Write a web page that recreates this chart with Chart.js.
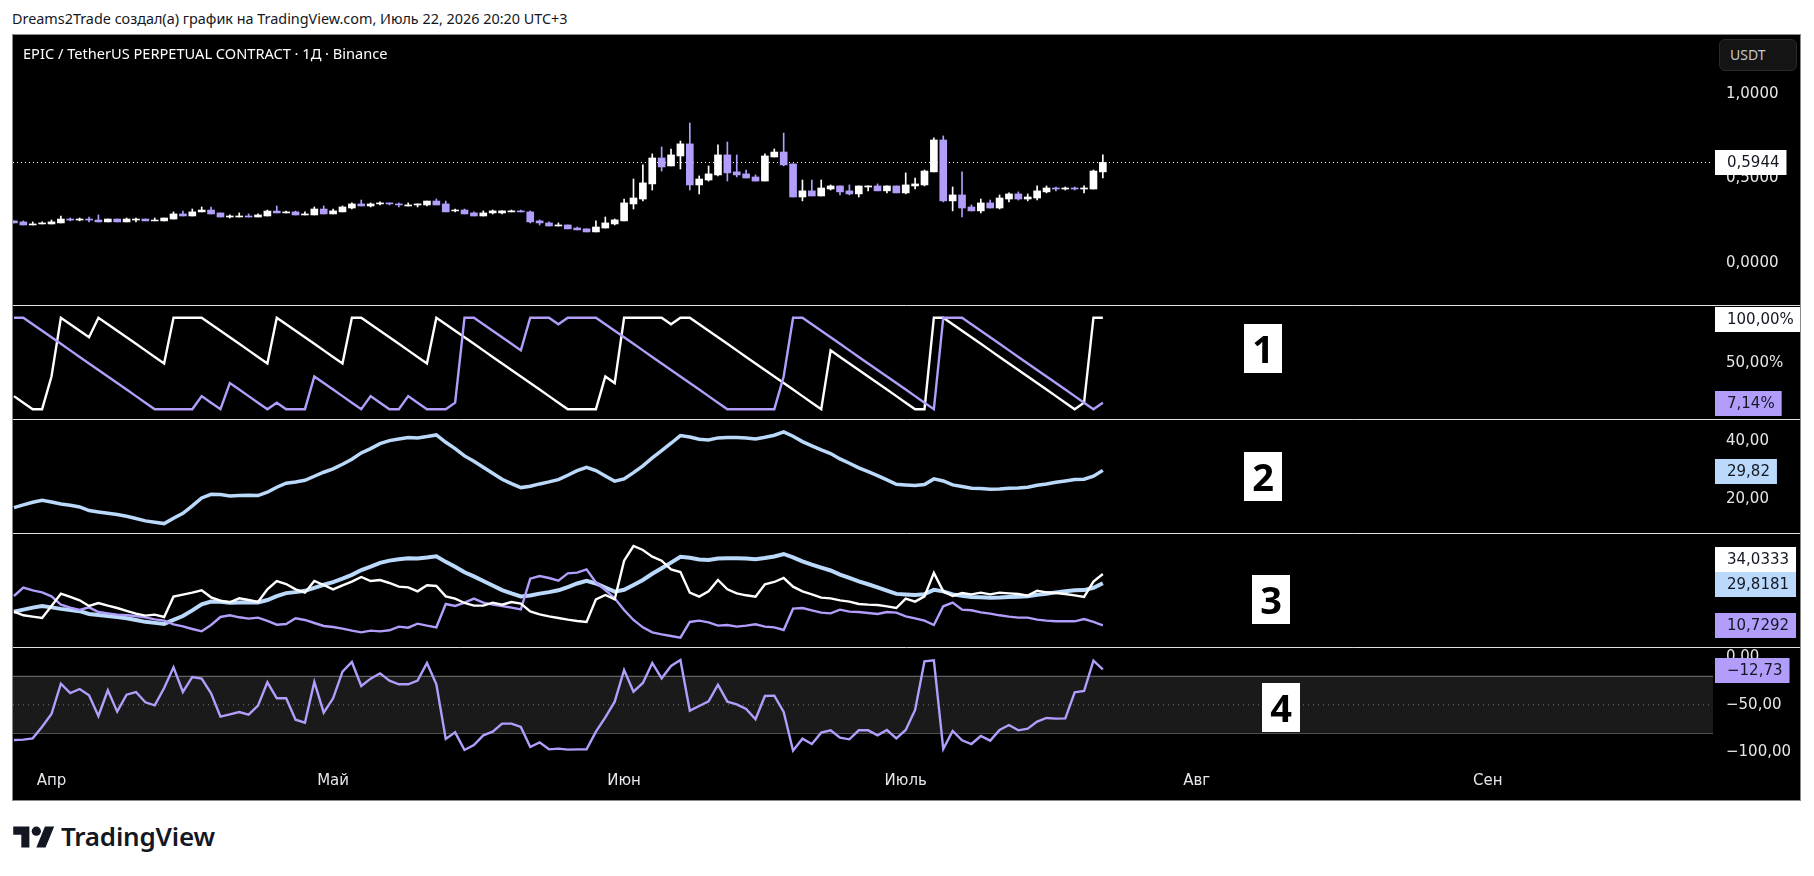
<!DOCTYPE html>
<html>
<head>
<meta charset="utf-8">
<title>EPIC / TetherUS</title>
<script src="https://cdn.jsdelivr.net/npm/chart.js@4"></script>
<style>
    html, body { margin: 0; padding: 0; background: #fff; }
    body { width: 1814px; height: 876px; position: relative; overflow: hidden; font-family: "Noto Sans", sans-serif; }
    .abs { position: absolute; white-space: nowrap; }
    #byline { left: 12px; top: 10px; font-size: 14.4px; line-height: 18px; color: #131722; }
    #wrap { left: 12px; top: 34px; width: 1787px; height: 765px; border: 1px solid #8a8a8a; background: #000; }
    #title { left: 23px; top: 44px; font-size: 14.6px; line-height: 18px; color: #fff; }
    #unit { left: 1719px; top: 39px; width: 78px; height: 32px; box-sizing: border-box; background: #141414; border: 1px solid #2a2a2a; border-radius: 6px; color: #c4c6cc; font-size: 14px; line-height: 30px; padding-left: 10px; }
    .num { width: 38px; height: 49px; background: #fff; color: #000; font: bold 38px/49px "Noto Sans", sans-serif; text-align: center; }
    #brand { left: 61px; top: 819px; font-size: 26px; line-height: 34px; font-weight: 600; color: #131722; letter-spacing: -0.2px; }
    #logo { left: 13px; top: 822px; }
</style>
</head>
<body>
<div class="abs" id="byline">Dreams2Trade создал(а) график на TradingView.com, Июль 22, 2026 20:20 UTC+3</div>
<div class="abs" id="wrap"><canvas id="chart" width="1787" height="765"></canvas></div>
<div class="abs" id="title">EPIC / TetherUS PERPETUAL CONTRACT · 1Д · Binance</div>
<div class="abs" id="unit">USDT</div>
<div class="abs num" style="left:1244px;top:324px">1</div>
<div class="abs num" style="left:1244px;top:452px">2</div>
<div class="abs num" style="left:1252px;top:575px">3</div>
<div class="abs num" style="left:1262px;top:683px">4</div>
<svg class="abs" id="logo" width="42" height="30" viewBox="0 0 36 26"><path fill="#131722" d="M14 22H7V11H0V4h14v18zM28 22h-8l7.5-18h8L28 22z"/><circle fill="#131722" cx="20" cy="8" r="4"/></svg>
<div class="abs" id="brand">TradingView</div>

<script>
const opens = [
    .250,.244,.226,.232,.232,.238,.261,.255,.261,.255,
    .244,.261,.244,.255,.261,.250,.250,.261,.291,.279,
    .303,.314,.297,.273,.273,.279,.273,.279,.308,.297,
    .303,.285,.285,.320,.291,.303,.326,.350,.338,.350,
    .356,.350,.338,.344,.344,.367,.350,.309,.314,.297,
    .279,.297,.297,.303,.309,.303,.250,.238,.220,.226,
    .208,.203,.185,.208,.232,.250,.350,.379,.468,.621,
    .574,.633,.704,.462,.491,.521,.639,.539,.527,.509,
    .485,.627,.656,.586,.391,.427,.397,.438,.456,.427,
    .409,.450,.456,.427,.456,.415,.456,.462,.539,.727,
    .368,.403,.332,.309,.356,.326,.379,.409,.379,.385,
    .421,.444,.438,.444,.438,.438,.539
];
const highs = [
    .250,.250,.244,.244,.255,.279,.267,.267,.273,.285,
    .261,.261,.267,.267,.261,.267,.267,.303,.308,.320,
    .332,.332,.297,.285,.297,.291,.291,.314,.338,.308,
    .308,.303,.332,.338,.320,.338,.356,.373,.356,.362,
    .356,.356,.356,.350,.367,.379,.367,.320,.320,.303,
    .309,.314,.309,.314,.314,.309,.256,.244,.238,.226,
    .214,.203,.250,.273,.261,.379,.497,.580,.645,.686,
    .674,.721,.827,.515,.574,.698,.715,.639,.550,.521,
    .645,.674,.768,.586,.491,.491,.491,.462,.456,.462,
    .456,.456,.468,.456,.456,.533,.503,.550,.739,.751,
    .450,.539,.344,.379,.373,.403,.415,.421,.409,.456,
    .456,.450,.450,.450,.456,.550,.639
];
const lows = [
    .238,.226,.226,.232,.232,.238,.250,.250,.244,.244,
    .244,.244,.244,.244,.250,.250,.250,.261,.279,.279,
    .303,.291,.273,.267,.273,.273,.273,.279,.297,.297,
    .285,.285,.285,.291,.291,.303,.320,.338,.332,.344,
    .344,.332,.338,.332,.338,.344,.303,.303,.291,.279,
    .279,.291,.291,.303,.303,.238,.226,.220,.220,.203,
    .197,.185,.185,.208,.226,.250,.320,.368,.432,.544,
    .574,.556,.432,.409,.485,.515,.485,.509,.503,.485,
    .485,.627,.574,.391,.368,.397,.397,.432,.403,.403,
    .391,.427,.427,.415,.415,.409,.438,.456,.539,.362,
    .309,.273,.309,.297,.326,.320,.362,.373,.368,.373,
    .415,.427,.432,.432,.415,.438,.503
];
const closes = [
    .238,.226,.232,.238,.244,.261,.255,.261,.255,.244,
    .261,.244,.261,.261,.250,.255,.267,.291,.279,.303,
    .314,.291,.273,.279,.279,.273,.285,.308,.297,.303,
    .285,.291,.320,.291,.309,.332,.350,.338,.350,.356,
    .350,.344,.344,.350,.367,.344,.303,.314,.291,.279,
    .297,.309,.309,.309,.303,.244,.238,.220,.226,.203,
    .197,.185,.214,.238,.256,.356,.385,.474,.621,.568,
    .639,.704,.462,.497,.527,.639,.533,.521,.503,.485,
    .633,.656,.580,.391,.427,.397,.444,.456,.421,.409,
    .456,.456,.427,.456,.415,.462,.468,.544,.727,.368,
    .403,.326,.309,.356,.326,.385,.409,.379,.391,.427,
    .444,.438,.444,.438,.444,.544,.5944
];
const aroonUp = [
    14.29,7.14,0,0,35.71,100,92.86,85.71,78.57,100,
    92.86,85.71,78.57,71.43,64.29,57.14,50,100,100,100,
    100,92.86,85.71,78.57,71.43,64.29,57.14,50,100,92.86,
    85.71,78.57,71.43,64.29,57.14,50,100,100,92.86,85.71,
    78.57,71.43,64.29,57.14,50,100,92.86,85.71,78.57,71.43,
    64.29,57.14,50,42.86,35.71,28.57,21.43,14.29,7.14,0,
    0,0,0,35.71,28.57,100,100,100,100,100,
    92.86,100,100,92.86,85.71,78.57,71.43,64.29,57.14,50,
    42.86,35.71,28.57,21.43,14.29,7.14,0,64.29,57.14,50,
    42.86,35.71,28.57,21.43,14.29,7.14,0,0,100,100,
    92.86,85.71,78.57,71.43,64.29,57.14,50,42.86,35.71,28.57,
    21.43,14.29,7.14,0,7.14,100,100
];
const aroonDown = [
    100,100,92.86,85.71,78.57,71.43,64.29,57.14,50,42.86,
    35.71,28.57,21.43,14.29,7.14,0,0,0,0,0,
    14.29,7.14,0,28.57,21.43,14.29,7.14,0,7.14,0,
    0,0,35.71,28.57,21.43,14.29,7.14,0,14.29,7.14,
    0,0,14.29,7.14,0,0,0,7.14,100,100,
    92.86,85.71,78.57,71.43,64.29,100,100,100,92.86,100,
    100,100,100,92.86,85.71,78.57,71.43,64.29,57.14,50,
    42.86,35.71,28.57,21.43,14.29,7.14,0,0,0,0,
    0,0,35.71,100,100,92.86,85.71,78.57,71.43,64.29,
    57.14,50,42.86,35.71,28.57,21.43,14.29,7.14,0,100,
    100,100,92.86,85.71,78.57,71.43,64.29,57.14,50,42.86,
    35.71,28.57,21.43,14.29,7.14,0,7.14
];
const adx = [
    16.92,17.84,18.77,19.46,18.88,18.19,17.73,17.15,15.88,15.42,
    14.95,14.49,13.92,13.11,12.30,11.83,11.37,13.22,14.95,17.50,
    20.27,21.54,21.43,20.96,21.08,21.19,21.08,22.23,23.97,25.35,
    25.81,26.39,27.78,29.17,30.32,31.94,33.67,35.87,37.37,39.10,
    40.14,40.72,41.18,41.07,41.53,42.11,39.56,37.37,34.83,32.98,
    30.90,28.82,26.74,25.24,23.85,24.31,25.12,25.82,26.62,28.13,
    29.74,30.90,29.74,27.90,26.05,26.86,29.05,31.36,34.13,36.68,
    39.22,41.88,41.41,40.60,40.37,41.07,41.18,41.18,41.07,40.72,
    41.30,41.99,43.15,41.64,39.80,38.29,36.91,35.64,33.79,32.29,
    30.67,29.40,28.01,26.51,25.01,24.78,24.54,24.89,26.86,26.16,
    24.78,24.20,23.62,23.50,23.27,23.39,23.62,23.74,23.97,24.66,
    25.12,25.70,26.16,26.62,26.74,27.78,29.82
];
const plusDi = [
    16.93,15.27,14.66,14.05,19.51,25.11,23.60,22.08,19.51,20.87,
    19.66,18.60,17.24,16.02,15.11,15.57,14.51,23.75,24.66,25.57,
    26.63,23.45,21.93,21.17,22.99,22.23,21.33,27.08,30.87,29.51,
    27.08,25.57,30.87,29.05,27.08,28.90,30.57,32.69,30.87,31.32,
    29.96,28.29,27.99,26.17,28.90,28.60,23.90,22.84,20.87,19.66,
    19.66,21.02,20.11,21.33,20.57,17.08,15.72,14.81,14.05,13.30,
    12.69,12.24,22.54,24.51,22.54,40.11,46.78,44.96,41.93,40.11,
    36.17,34.96,25.57,23.75,26.17,31.32,27.08,25.26,24.36,23.75,
    29.36,30.42,32.23,28.29,26.17,24.81,23.30,22.99,22.08,21.48,
    20.42,20.11,19.96,19.36,18.60,22.84,21.48,23.90,34.51,26.17,
    24.05,25.42,24.81,25.57,24.81,25.57,25.26,24.96,24.20,26.48,
    25.72,25.42,24.96,24.36,23.60,30.57,34.03
];
const minusDi = [
    24.05,27.84,26.63,25.72,23.90,20.11,18.75,17.69,18.90,16.78,
    16.17,15.57,15.27,14.96,14.36,13.45,12.84,11.18,10.27,9.05,
    7.99,10.87,14.51,15.27,14.36,13.75,14.21,12.69,11.02,11.33,
    13.90,13.15,11.78,10.42,9.96,9.21,8.30,7.54,8.30,7.99,
    8.45,10.11,9.66,11.48,10.57,9.81,20.42,19.51,21.02,22.84,
    21.02,20.11,19.51,18.75,17.99,31.93,33.14,32.23,31.02,34.35,
    34.66,36.17,30.26,26.78,22.99,17.69,13.15,9.81,7.54,6.63,
    5.87,5.12,12.24,12.84,12.08,10.57,10.87,10.11,10.57,11.18,
    10.11,9.81,8.60,18.30,18.60,17.54,16.48,16.17,17.84,16.93,
    16.78,16.33,15.87,16.78,16.48,14.81,13.90,12.84,10.87,19.36,
    21.02,17.84,17.54,16.63,16.02,15.27,14.66,14.21,14.21,13.30,
    12.84,12.54,12.54,12.54,13.60,12.24,10.73
];
const willr = [
    -87.03,-86.67,-85.27,-72.99,-59.66,-27.72,-37.55,-33.34,-40.01,-61.76,
    -34.74,-57.20,-39.30,-36.50,-47.38,-50.53,-32.29,-10.53,-36.50,-20.71,
    -22.46,-37.90,-62.46,-60.01,-57.55,-60.36,-50.88,-26.32,-43.16,-43.16,
    -65.62,-68.78,-25.97,-58.25,-43.16,-15.09,-4.92,-30.18,-22.46,-16.85,
    -24.57,-28.43,-28.43,-24.57,-5.97,-28.43,-85.97,-78.96,-97.55,-92.29,
    -82.11,-78.25,-69.83,-69.83,-73.34,-94.40,-89.48,-96.85,-96.15,-97.20,
    -96.85,-96.85,-78.25,-63.17,-46.67,-13.34,-36.15,-27.02,-5.97,-22.11,
    -9.13,-2.81,-56.15,-51.24,-46.32,-28.78,-46.67,-49.48,-54.39,-65.27,
    -40.71,-40.36,-57.55,-98.26,-85.62,-91.24,-79.31,-76.85,-84.57,-86.32,
    -76.85,-76.85,-82.11,-76.50,-85.27,-76.50,-55.45,-4.21,-3.16,-96.50,
    -77.55,-87.38,-91.24,-82.82,-87.73,-76.50,-71.24,-76.85,-75.10,-67.73,
    -63.87,-64.57,-64.22,-36.85,-35.44,-3.51,-12.73
];

const monthLabels = ["Апр", "Май", "Июн", "Июль", "Авг", "Сен"];
const monthBars = [4, 34, 65, 95, 126, 157];
const priceTicks = [0, 0.5, 1];
const aroonTicks = [0, 50, 100];
const adxTicks = [20, 40];
const willrTicks = [-100, -50, 0];
const willrBand = [-20, -80];
const willrMid = -50;

const WHITE = "#ffffff";
const PURPLE = "#b29dfb";
const BLUE = "#bbd9fb";
const AXIS_TEXT = "#e4e6ea";
const FONT = "DejaVu Sans";
const X_MIN = -0.1;
const X_MAX = 181;

// comma decimals and a real minus, the way the ru locale prints them
function fmt(v, digits) {
    return v.toFixed(digits).replace(".", ",").replace("-", "\u2212");
}

const toPoints = series => series.map((y, x) => ({ x, y }));
const level = y => [{ x: X_MIN, y }, { x: X_MAX, y }];
const candleColors = closes.map((c, i) => c >= opens[i] ? WHITE : PURPLE);

function lineSet(data, yAxisID, color, width, extra) {
    return Object.assign({
        type: "line", data, yAxisID, borderColor: color, borderWidth: width,
        pointRadius: 0, tension: 0, fill: false, order: 2
    }, extra || {});
}

// tick labels must not push the stacked panes around
function noPadding(s) {
    s.paddingTop = s.paddingBottom = s.paddingLeft = s.paddingRight = 0;
}

function paneAxis(min, max, stackWeight, ticks, digits, suffix) {
    return {
        type: "linear", position: "right", stack: "panes", stackWeight, min, max,
        grid: { display: false, drawTicks: false }, border: { display: false },
        afterFit: s => { s.width = 87; noPadding(s); },
        afterBuildTicks: s => { s.ticks = ticks.map(value => ({ value })); },
        ticks: {
            display: ticks.length > 0, color: AXIS_TEXT, font: { family: FONT, size: 15 },
            padding: 13, crossAlign: "near", autoSkip: false,
            callback: v => fmt(v, digits) + (suffix || "")
        }
    };
}

// white separators between panes, across the axis column too
const paneLines = {
    id: "paneLines",
    afterDraw(chart) {
        const ctx = chart.ctx;
        ctx.save();
        ctx.strokeStyle = "#dfe1e6";
        ctx.lineWidth = 1;
        ["yPrice", "yAroon", "yAdx", "yDmi"].forEach(id => {
            const y = Math.round(chart.scales[id].bottom) - 0.5;
            ctx.beginPath();
            ctx.moveTo(0, y);
            ctx.lineTo(chart.width, y);
            ctx.stroke();
        });
        ctx.restore();
    }
};

// last value tags on the axis column
const lastTags = {
    id: "lastTags",
    afterDraw(chart) {
        const last = arr => arr[arr.length - 1];
        const tags = [
            { id: "yPrice", v: 0.5944, text: fmt(0.5944, 4), bg: WHITE, dy: 0 },
            { id: "yAroon", v: 100, text: fmt(100, 2) + "%", bg: WHITE, dy: 1.5 },
            { id: "yAroon", v: last(aroonDown), text: "7,14%", bg: PURPLE, dy: 0.5 },
            { id: "yAdx", v: last(adx), text: fmt(last(adx), 2), bg: BLUE, dy: 0.5 },
            { id: "yDmi", v: last(plusDi), text: "34,0333", bg: WHITE, dy: -14.7 },
            { id: "yDmi", v: last(adx), text: "29,8181", bg: BLUE, dy: 0.5 },
            { id: "yDmi", v: last(minusDi), text: "10,7292", bg: PURPLE, dy: 0 },
            { id: "yWillr", v: last(willr), text: fmt(last(willr), 2), bg: PURPLE, dy: 0.5 }
        ];
        const ctx = chart.ctx;
        const left = chart.chartArea.right + 2;
        ctx.save();
        ctx.font = "15px '" + FONT + "'";
        ctx.textBaseline = "middle";
        tags.forEach(t => {
            const y = Math.round(chart.scales[t.id].getPixelForValue(t.v) + t.dy);
            const w = ctx.measureText(t.text).width + 19;
            ctx.fillStyle = t.bg;
            ctx.fillRect(left, y - 12, w, 25);
            ctx.fillStyle = "#131722";
            ctx.fillText(t.text, left + 12, y + 1);
        });
        ctx.restore();
    }
};

const wicks = {
    type: "bar", yAxisID: "yPrice", order: 5, barThickness: 1, grouped: false,
    backgroundColor: candleColors, borderWidth: 0, borderSkipped: false,
    data: highs.map((h, x) => ({ x, y: [lows[x], h] }))
};
const bodies = {
    type: "bar", yAxisID: "yPrice", order: 4, barThickness: 7, grouped: false,
    backgroundColor: candleColors, borderWidth: 0, borderSkipped: false,
    data: opens.map((o, x) => ({ x, y: [o, closes[x]] }))
};

new Chart(document.getElementById("chart"), {
    type: "bar",
    data: {
        datasets: [
            wicks,
            bodies,
            lineSet(level(closes[closes.length - 1]), "yPrice", WHITE, 1, { borderDash: [1, 3], order: 6 }),

            lineSet(toPoints(aroonUp), "yAroon", WHITE, 2.4, { order: 3 }),
            lineSet(toPoints(aroonDown), "yAroon", PURPLE, 2.4),

            lineSet(toPoints(adx), "yAdx", BLUE, 3.5),

            lineSet(toPoints(adx), "yDmi", BLUE, 4, { order: 3 }),
            lineSet(toPoints(plusDi), "yDmi", WHITE, 2.4),
            lineSet(toPoints(minusDi), "yDmi", PURPLE, 2.4),

            lineSet(level(willrBand[0]), "yWillr", "#787878", 1, { fill: "+1", backgroundColor: "#1a1a1a", order: 9 }),
            lineSet(level(willrBand[1]), "yWillr", "#787878", 1, { order: 9 }),
            lineSet(level(willrMid), "yWillr", "#787878", 1, { borderDash: [1, 4], order: 8 }),
            lineSet(toPoints(willr), "yWillr", PURPLE, 2.4)
        ]
    },
    plugins: [paneLines, lastTags],
    options: {
        responsive: false,
        animation: false,
        devicePixelRatio: 1,
        layout: { padding: 0 },
        plugins: { legend: { display: false }, tooltip: { enabled: false } },
        scales: {
            x: {
                type: "linear", min: X_MIN, max: X_MAX, offset: false,
                grid: { display: false, drawTicks: false }, border: { display: false },
                afterFit: s => { s.height = 34; noPadding(s); },
                afterBuildTicks: s => { s.ticks = monthBars.map(value => ({ value })); },
                ticks: {
                    color: AXIS_TEXT, font: { family: FONT, size: 15 }, padding: 6,
                    autoSkip: false, maxRotation: 0,
                    callback: v => monthLabels[monthBars.indexOf(v)]
                }
            },
            yPrice: paneAxis(-0.2518, 1.346, 271, priceTicks, 4),
            yAroon: paneAxis(-11.8, 112.8, 114, aroonTicks, 2, "%"),
            yAdx: paneAxis(7.76, 47.28, 114, adxTicks, 2),
            yDmi: paneAxis(0.41, 52.23, 114, [], 2),
            yWillr: paneAxis(-114.4, 9.8, 118, willrTicks, 2)
        }
    }
});
</script>
</body>
</html>
